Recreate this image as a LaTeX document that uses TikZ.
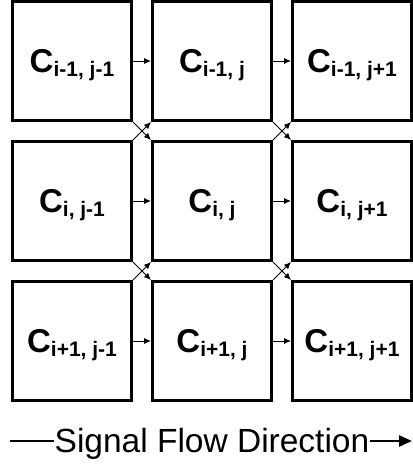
\documentclass[tikz,border=0pt]{standalone}
\usepackage{fontspec}
\setmainfont{Liberation Sans}
\usetikzlibrary{arrows.meta,positioning}

% cell label: big C with a lowered index pair
\newcommand{\cellname}[2]{{\fontsize{33}{33}\selectfont C}\raisebox{-4.5pt}[0pt][0pt]{\fontsize{21}{21}\selectfont #1, #2}}

\begin{document}
\begin{tikzpicture}[>=Latex,
  node distance=18pt and 18pt,
  cellbox/.style={draw, line width=3pt, minimum size=119pt, inner sep=0pt, font=\bfseries},
  link/.style={->, line width=0.9pt, >={Latex[length=7pt,width=6pt]}}]
\useasboundingbox (0,0) rectangle (412pt,-465pt);
\node[cellbox] (c11) at (72pt,-61pt) {\cellname{i-1}{j-1}};
\node[cellbox, right=of c11] (c12) {\cellname{i-1}{j}};
\node[cellbox, right=of c12] (c13) {\cellname{i-1}{j+1}};
\node[cellbox, below=of c11] (c21) {\cellname{i}{j-1}};
\node[cellbox, right=of c21] (c22) {\cellname{i}{j}};
\node[cellbox, right=of c22] (c23) {\cellname{i}{j+1}};
\node[cellbox, below=of c21] (c31) {\cellname{i+1}{j-1}};
\node[cellbox, right=of c31] (c32) {\cellname{i+1}{j}};
\node[cellbox, right=of c32] (c33) {\cellname{i+1}{j+1}};
% straight links
\draw[link] (c11) -- (c12);
\draw[link] (c12) -- (c13);
\draw[link] (c21) -- (c22);
\draw[link] (c22) -- (c23);
\draw[link] (c31) -- (c32);
\draw[link] (c32) -- (c33);
% crossing links
\draw[link] (c11.south east) -- (c22.north west);
\draw[link] (c21.north east) -- (c12.south west);
\draw[link] (c12.south east) -- (c23.north west);
\draw[link] (c22.north east) -- (c13.south west);
\draw[link] (c21.south east) -- (c32.north west);
\draw[link] (c31.north east) -- (c22.south west);
\draw[link] (c22.south east) -- (c33.north west);
\draw[link] (c32.north east) -- (c23.south west);
% flow direction
\node[font=\fontsize{33.5}{33.5}\selectfont, anchor=base, inner sep=0pt] (flow) at (212pt,-452pt) {Signal Flow Direction};
\coordinate (flowstart) at (10pt,-441pt);
\coordinate (flowend) at (412pt,-441pt);
\draw[line width=2.5pt] (flowstart) -- (flowstart -| flow.west);
\draw[line width=2.5pt, -{Triangle[length=13pt,width=11pt]}] (flowend -| flow.east) -- (flowend);
\end{tikzpicture}
\end{document}
